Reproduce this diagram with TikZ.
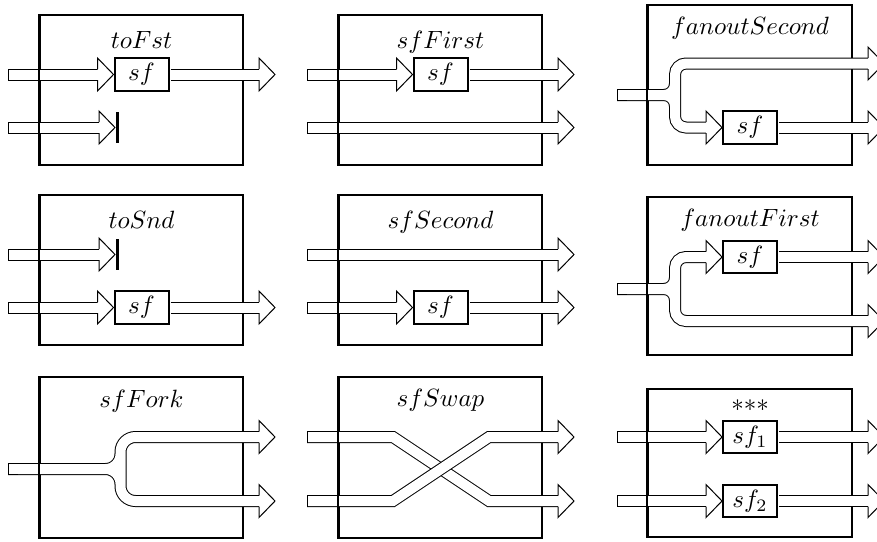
\documentclass[tikz,border=0pt]{standalone}
\usepackage{tikz}
\usetikzlibrary{positioning}

\begin{document}
\begin{tikzpicture}[x=0.4pt,y=-0.4pt,
	  frame/.style={draw,line width=0.8pt,minimum width=81.2pt,minimum height=60pt,inner sep=0pt},
	  sfbox/.style={draw,line width=0.8pt,fill=white,minimum width=21.6pt,minimum height=13pt,inner sep=1pt},
	  title/.style={anchor=base,inner sep=0pt},
	  pipe/.style={preaction={draw=black,line width=4.8pt,shorten <=0pt},draw=white,line width=4pt},
	  inpipe/.style={pipe,shorten <=0.4pt},
	  stopbar/.style={fill=black,inner sep=0pt,minimum width=1.2pt,minimum height=12.4pt,anchor=west},
	  pipehead/.pic={
	    \fill[white] (-16,-16.5) -- (0,0) -- (-16,16.5) -- cycle;
	    \draw[line width=0.4pt] (-16,-5.5) -- (-16,-16.5) -- (0,0) -- (-16,16.5) -- (-16,5.5);
	  }]

	  \useasboundingbox (0,0) rectangle (877,541);
	  \clip (0,0) rectangle (877,541);

	  % Frames and their titles
	  \node[frame] (frameA) at (141.5,90) {};
	  \node[frame] (frameB) at (440.5,90) {};
	  \node[frame,minimum width=81.6pt,minimum height=64pt] (frameC) at (750,85) {};
	  \node[frame] (frameD) at (141.5,270) {};
	  \node[frame] (frameE) at (440.5,270) {};
	  \node[frame,minimum width=81.6pt,minimum height=63.2pt] (frameF) at (750,276) {};
	  \node[frame,minimum height=64.4pt] (frameG) at (141.5,457.5) {};
	  \node[frame,minimum height=64.4pt] (frameH) at (440.5,457.5) {};
	  \node[frame,minimum width=81.6pt,minimum height=59.2pt] (frameI) at (750,463) {};

	  \node[title] (titleA) at (141.5,48) {$toFst$};
	  \node[title] (titleB) at (440.5,48) {$sfFirst$};
	  \node[title] (titleC) at (750,34) {$fanoutSecond$};
	  \node[title] (titleD) at (141.5,228) {$toSnd$};
	  \node[title] (titleE) at (440.5,228) {$sfSecond$};
	  \node[title] (titleF) at (750,226) {$fanoutFirst$};
	  \node[title] (titleG) at (141.5,407) {$sfFork$};
	  \node[title] (titleH) at (440.5,406) {$sfSwap$};
	  \node[title] (titleI) at (750,418) {***};

	  % Boxes, stops and free ends
	  \node[sfbox] (sfA) at (141.5,74.5) {$sf$};
	  \node[stopbar] (barA) at (115,127.5) {};
	  \coordinate (inA1) at (8,74.5);
	  \coordinate (outA1) at (275,74.5);
	  \coordinate (inA2) at (8,127.5);

	  \node[sfbox] (sfB) at (440.5,74.5) {$sf$};
	  \coordinate (inB1) at (307,74.5);
	  \coordinate (outB1) at (574,74.5);
	  \coordinate (inB2) at (307,127.5);
	  \coordinate (outB2) at (574,127.5);

	  \node[sfbox] (sfC) at (750,127.5) {$sf$};
	  \coordinate (inC) at (617,95);
	  \coordinate (forkC) at (675,95);
	  \coordinate (outC1) at (884,63.5);
	  \coordinate (outC2) at (884,127.5);

	  \node[stopbar] (barD) at (115,254.5) {};
	  \node[sfbox] (sfD) at (141.5,307.5) {$sf$};
	  \coordinate (inD1) at (8,254.5);
	  \coordinate (inD2) at (8,307.5);
	  \coordinate (outD2) at (275,307.5);

	  \node[sfbox] (sfE) at (440.5,307.5) {$sf$};
	  \coordinate (inE1) at (307,254.5);
	  \coordinate (outE1) at (574,254.5);
	  \coordinate (inE2) at (307,307.5);
	  \coordinate (outE2) at (574,307.5);

	  \node[sfbox] (sfF) at (750,257) {$sf$};
	  \coordinate (inF) at (617,289);
	  \coordinate (forkF) at (675,289);
	  \coordinate (outF1) at (884,257);
	  \coordinate (outF2) at (884,321);

	  \coordinate (inG) at (8,469);
	  \coordinate (forkG) at (120.5,469);
	  \coordinate (outG1) at (275,437);
	  \coordinate (outG2) at (275,501);

	  \coordinate (inH1) at (307,437);
	  \coordinate (inH2) at (307,501);
	  \coordinate (bendH1) at (393,437);
	  \coordinate (bendH2) at (489,501);
	  \coordinate (bendH3) at (393,501);
	  \coordinate (bendH4) at (489,437);
	  \coordinate (outH1) at (574,437);
	  \coordinate (outH2) at (574,501);

	  \node[sfbox] (sfI1) at (750,437) {$sf_1$};
	  \node[sfbox] (sfI2) at (750,501) {$sf_2$};
	  \coordinate (inI1) at (617,437);
	  \coordinate (outI1) at (884,437);
	  \coordinate (inI2) at (617,501);
	  \coordinate (outI2) at (884,501);

	  % Pipes
	  \draw[inpipe] (inA1) -- ([xshift=-6.4pt]sfA.west);
	  \draw[pipe] ([xshift=0.4pt]sfA.east) -- ([xshift=-6.4pt]outA1);
	  \draw[inpipe] (inA2) -- ([xshift=-6.4pt]barA.west);

	  \draw[inpipe] (inB1) -- ([xshift=-6.4pt]sfB.west);
	  \draw[pipe] ([xshift=0.4pt]sfB.east) -- ([xshift=-6.4pt]outB1);
	  \draw[inpipe] (inB2) -- ([xshift=-6.4pt]outB2);

	  \draw[pipe,rounded corners=4.4pt] (inC) -- (forkC) |- ([xshift=-6.4pt]outC1)
	    (inC) -- (forkC) |- ([xshift=-6.4pt]sfC.west)
	    ([yshift=6pt]forkC) -- ([yshift=-6pt]forkC);
	  \draw[inpipe] (inC) -- ([xshift=4pt]inC);
	  \draw[pipe] ([xshift=0.4pt]sfC.east) -- ([xshift=-6.4pt]outC2);

	  \draw[inpipe] (inD1) -- ([xshift=-6.4pt]barD.west);
	  \draw[inpipe] (inD2) -- ([xshift=-6.4pt]sfD.west);
	  \draw[pipe] ([xshift=0.4pt]sfD.east) -- ([xshift=-6.4pt]outD2);

	  \draw[inpipe] (inE1) -- ([xshift=-6.4pt]outE1);
	  \draw[inpipe] (inE2) -- ([xshift=-6.4pt]sfE.west);
	  \draw[pipe] ([xshift=0.4pt]sfE.east) -- ([xshift=-6.4pt]outE2);

	  \draw[pipe,rounded corners=4.4pt] (inF) -- (forkF) |- ([xshift=-6.4pt]sfF.west)
	    (inF) -- (forkF) |- ([xshift=-6.4pt]outF2)
	    ([yshift=6pt]forkF) -- ([yshift=-6pt]forkF);
	  \draw[inpipe] (inF) -- ([xshift=4pt]inF);
	  \draw[pipe] ([xshift=0.4pt]sfF.east) -- ([xshift=-6.4pt]outF1);

	  \draw[pipe,rounded corners=6pt] (inG) -- (forkG) |- ([xshift=-6.4pt]outG1)
	    (inG) -- (forkG) |- ([xshift=-6.4pt]outG2)
	    ([yshift=7pt]forkG) -- ([yshift=-7pt]forkG);
	  \draw[inpipe] (inG) -- ([xshift=4pt]inG);

	  \draw[inpipe] (inH1) -- (bendH1) -- (bendH2) -- ([xshift=-6.4pt]outH2);
	  \draw[inpipe] (inH2) -- (bendH3) -- (bendH4) -- ([xshift=-6.4pt]outH1);

	  \draw[inpipe] (inI1) -- ([xshift=-6.4pt]sfI1.west);
	  \draw[pipe] ([xshift=0.4pt]sfI1.east) -- ([xshift=-6.4pt]outI1);
	  \draw[inpipe] (inI2) -- ([xshift=-6.4pt]sfI2.west);
	  \draw[pipe] ([xshift=0.4pt]sfI2.east) -- ([xshift=-6.4pt]outI2);

	  % Arrow heads
	  \foreach \p in {sfA.west,outA1,barA.west,sfB.west,outB1,outB2,outC1,sfC.west,outC2,
	                  barD.west,sfD.west,outD2,outE1,sfE.west,outE2,sfF.west,outF1,outF2,
	                  outG1,outG2,outH1,outH2,sfI1.west,outI1,sfI2.west,outI2}
	    \pic at (\p) {pipehead};

	  % Left frame edges show through the inputs
	  \foreach \f in {frameA,frameB,frameC,frameD,frameE,frameF,frameG,frameH,frameI}
	    \draw[line width=0.8pt] (\f.north west) -- (\f.south west);

\end{tikzpicture}
\end{document}
